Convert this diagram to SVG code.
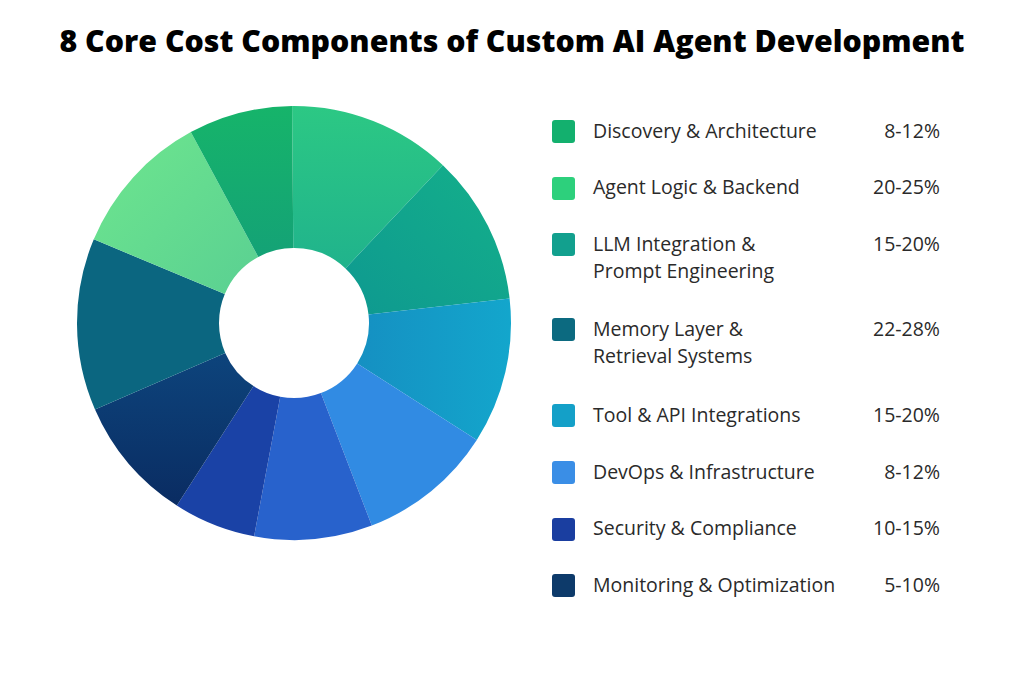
<svg xmlns="http://www.w3.org/2000/svg" width="1024" height="683" viewBox="0 0 1024 683">
<style>
.t{font-family:"Open Sans","Liberation Sans",sans-serif;font-size:19.5px;fill:#2a2a2a}
.p{font-family:"Open Sans","Liberation Sans",sans-serif;font-size:19.5px;fill:#2a2a2a;text-anchor:end}
.h{font-family:"Open Sans","Liberation Sans",sans-serif;font-weight:800;font-size:30px;fill:#000;text-anchor:middle}
</style>
<defs>
<linearGradient id="g1" x1="0" y1="0" x2="0" y2="1"><stop offset="0" stop-color="#2cc884"/><stop offset="1" stop-color="#20b38c"/></linearGradient>
<linearGradient id="g2" x1="1" y1="0" x2="0" y2="1"><stop offset="0" stop-color="#14b08a"/><stop offset="1" stop-color="#0e9990"/></linearGradient>
<linearGradient id="g3" x1="1" y1="0" x2="0" y2="0"><stop offset="0" stop-color="#13a6cc"/><stop offset="1" stop-color="#1590c2"/></linearGradient>
<linearGradient id="g7" x1="0" y1="0" x2="0" y2="1"><stop offset="0" stop-color="#0d447c"/><stop offset="1" stop-color="#0a2c62"/></linearGradient>
<linearGradient id="g9" x1="0" y1="0" x2="1" y2="1"><stop offset="0" stop-color="#6ee68e"/><stop offset="1" stop-color="#5ad092"/></linearGradient>
<linearGradient id="g10" x1="0" y1="0" x2="0" y2="1"><stop offset="0" stop-color="#16b46a"/><stop offset="1" stop-color="#14a276"/></linearGradient>
</defs>
<rect width="1024" height="683" fill="#fff"/>
<text class="h" x="512" y="52" textLength="905" lengthAdjust="spacingAndGlyphs">8 Core Cost Components of Custom AI Agent Development</text>
<g id="donut">
<path fill="url(#g1)" d="M292.1,106 A217,217 0 0 1 442.9,165.2 L345.5,268.4 A75,75 0 0 0 293.3,248 Z"/>
<path fill="url(#g2)" d="M442.9,165.2 A217,217 0 0 1 509.6,298.4 L368.5,314.5 A75,75 0 0 0 345.5,268.4 Z"/>
<path fill="url(#g3)" d="M509.6,298.4 A217,217 0 0 1 476.8,439.9 L357.2,363.4 A75,75 0 0 0 368.5,314.5 Z"/>
<path fill="#318be3" d="M476.8,439.9 A217,217 0 0 1 371.8,525.6 L320.9,393 A75,75 0 0 0 357.2,363.4 Z"/>
<path fill="#2862cc" d="M371.8,525.6 A217,217 0 0 1 254.1,536.3 L280.2,396.7 A75,75 0 0 0 320.9,393 Z"/>
<path fill="#1a42a6" d="M254.1,536.3 A217,217 0 0 1 176.8,505.6 L253.5,386.1 A75,75 0 0 0 280.2,396.7 Z"/>
<path fill="url(#g7)" d="M176.8,505.6 A217,217 0 0 1 95,409.5 L225.2,352.9 A75,75 0 0 0 253.5,386.1 Z"/>
<path fill="#0b6680" d="M95,409.5 A217,217 0 0 1 93.8,239.3 L224.8,294.1 A75,75 0 0 0 225.2,352.9 Z"/>
<path fill="url(#g9)" d="M93.8,239.3 A217,217 0 0 1 190.8,132.1 L258.3,257 A75,75 0 0 0 224.8,294.1 Z"/>
<path fill="url(#g10)" d="M190.8,132.1 A217,217 0 0 1 292.1,106 L293.3,248 A75,75 0 0 0 258.3,257 Z"/>
</g>
<g id="legend">
<g id="l1"><rect x="552" y="120" width="23" height="23" rx="3" fill="#13b06e"/><text class="t" x="593" y="138">Discovery &amp; Architecture</text><text class="p" x="940" y="138">8-12%</text></g>
<g id="l2"><rect x="552" y="177" width="23" height="23" rx="3" fill="#2dd07c"/><text class="t" x="593" y="194">Agent Logic &amp; Backend</text><text class="p" x="940" y="194">20-25%</text></g>
<g id="l3"><rect x="552" y="233" width="23" height="23" rx="3" fill="#12a08e"/><text class="t" x="593" y="251">LLM Integration &amp;</text><text class="t" x="593" y="278">Prompt Engineering</text><text class="p" x="940" y="251">15-20%</text></g>
<g id="l4"><rect x="552" y="318" width="23" height="23" rx="3" fill="#0c6a80"/><text class="t" x="593" y="336">Memory Layer &amp;</text><text class="t" x="593" y="363">Retrieval Systems</text><text class="p" x="940" y="336">22-28%</text></g>
<g id="l5"><rect x="552" y="404" width="23" height="23" rx="3" fill="#14a0c8"/><text class="t" x="593" y="422">Tool &amp; API Integrations</text><text class="p" x="940" y="422">15-20%</text></g>
<g id="l6"><rect x="552" y="461" width="23" height="23" rx="3" fill="#3a8ee6"/><text class="t" x="593" y="479">DevOps &amp; Infrastructure</text><text class="p" x="940" y="479">8-12%</text></g>
<g id="l7"><rect x="552" y="518" width="23" height="23" rx="3" fill="#1a3ea0"/><text class="t" x="593" y="535">Security &amp; Compliance</text><text class="p" x="940" y="535">10-15%</text></g>
<g id="l8"><rect x="552" y="574" width="23" height="23" rx="3" fill="#0d3a6a"/><text class="t" x="593" y="592">Monitoring &amp; Optimization</text><text class="p" x="940" y="592">5-10%</text></g>
</g>
<g id="connectors"/>
</svg>
